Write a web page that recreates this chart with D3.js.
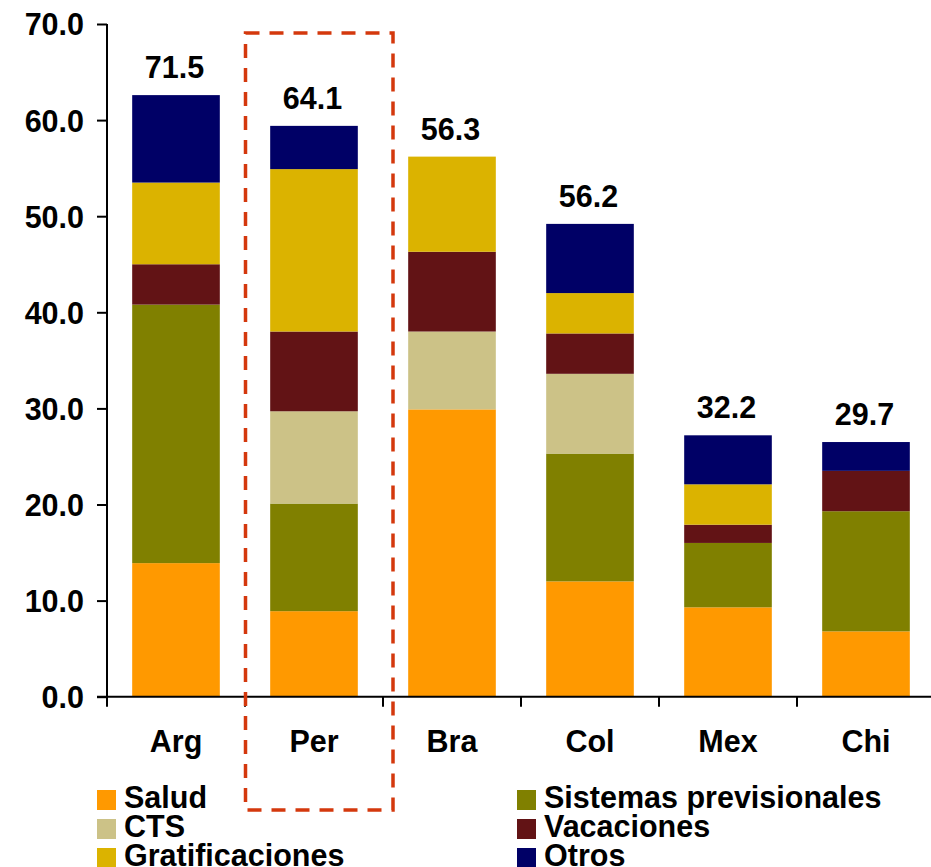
<!DOCTYPE html>
<html>
<head>
<meta charset="utf-8">
<script src="https://cdn.jsdelivr.net/npm/d3@7"></script>
<style>
  html, body { margin: 0; padding: 0; background: #fff; }
  svg { display: block; }
  text { font-family: "Liberation Sans", Arial, sans-serif; font-weight: bold; fill: #000; }
</style>
</head>
<body>
<svg id="chart" width="931" height="867"></svg>
<script>
// ---- data ----
const categories = ["Arg", "Per", "Bra", "Col", "Mex", "Chi"];
const seriesNames = ["Salud", "Sistemas previsionales", "CTS", "Vacaciones", "Gratificaciones", "Otros"];
const salud           = [13.9,  8.9, 29.9, 12.0, 9.3,  6.8];
const sistemas        = [26.9, 11.2,  0.0, 13.3, 6.7, 12.5];
const cts             = [ 0.0,  9.6,  8.1,  8.3, 0.0,  0.0];
const vacaciones      = [ 4.2,  8.3,  8.3,  4.2, 1.9,  4.2];
const gratificaciones = [ 8.5, 16.9,  9.9,  4.2, 4.2,  0.0];
const otros           = [ 9.1,  4.5,  0.0,  7.2, 5.1,  3.0];
const totalLabels     = ["71.5", "64.1", "56.3", "56.2", "32.2", "29.7"];
const yTicks          = [0, 10, 20, 30, 40, 50, 60, 70];
const highlighted     = "Per";

const colors = ["#FF9900", "#808000", "#CCC287", "#621315", "#DBB300", "#000066"];
const seriesValues = [salud, sistemas, cts, vacaciones, gratificaciones, otros];
const FS = 30.5;

// table for d3.stack
const table = categories.map((c, i) => {
  const row = { cat: c };
  seriesNames.forEach((s, j) => row[s] = seriesValues[j][i]);
  return row;
});
const stacked = d3.stack().keys(seriesNames)(table);

const svg = d3.select("#chart");
const x = d3.scaleBand().domain(categories).range([107, 935]).padding(0);
const y = d3.scaleLinear().domain([0, 70]).range([696.7, 24]);
const barW = x.bandwidth() * 0.635;

// bars
svg.append("g").selectAll("g")
  .data(stacked).join("g")
  .attr("fill", (d, i) => colors[i])
  .selectAll("rect")
  .data(d => d).join("rect")
  .attr("x", d => x(d.data.cat) + (x.bandwidth() - barW) / 2)
  .attr("width", barW)
  .attr("y", d => y(d[1]))
  .attr("height", d => Math.max(0, y(d[0]) - y(d[1])));

// total labels
const topOf = categories.map((c, i) => d3.max(stacked, s => s[i][1]));
svg.append("g").selectAll("text")
  .data(categories).join("text")
  .attr("x", d => x(d) + x.bandwidth() / 2 - 1.5)
  .attr("y", (d, i) => y(topOf[i]) - 17)
  .attr("text-anchor", "middle")
  .attr("font-size", FS)
  .text((d, i) => totalLabels[i]);

// y axis
const yAxis = svg.append("g").attr("transform", "translate(107,0)")
  .call(d3.axisLeft(y).tickValues(yTicks).tickFormat(d3.format(".1f")).tickSize(10).tickPadding(13));
yAxis.select(".domain").attr("stroke", "#000").attr("stroke-width", 2).attr("d", `M0,${y(70)}V${y(0)}`);
yAxis.selectAll(".tick line").attr("stroke", "#000").attr("stroke-width", 2);
yAxis.selectAll(".tick text").attr("font-size", FS).attr("font-family", "Liberation Sans, Arial, sans-serif").attr("font-weight", "bold").attr("dy", "0.36em");

// x axis
const xAxis = svg.append("g").attr("transform", `translate(0,${y(0)})`)
  .call(d3.axisBottom(x).tickSize(0).tickPadding(34));
xAxis.select(".domain").attr("stroke", "#000").attr("stroke-width", 2).attr("d", "M97,0H931");
xAxis.selectAll(".tick text").attr("font-size", FS).attr("font-family", "Liberation Sans, Arial, sans-serif").attr("font-weight", "bold");
// category boundary ticks
svg.append("g").selectAll("line")
  .data(categories).join("line")
  .attr("x1", d => x(d)).attr("x2", d => x(d))
  .attr("y1", y(0)).attr("y2", y(0) + 10)
  .attr("stroke", "#000").attr("stroke-width", 2);

// highlight box
svg.append("rect")
  .attr("x", x(highlighted) + 0.5)
  .attr("y", 33)
  .attr("width", 147.5)
  .attr("height", 777)
  .attr("fill", "none")
  .attr("stroke", "#D4380D")
  .attr("stroke-width", 3.5)
  .attr("stroke-dasharray", "14,10");

// legend (two columns, filled column-wise)
const legendOrder = [0, 2, 4, 1, 3, 5];
const legend = svg.append("g");
legendOrder.forEach((si, k) => {
  const col = Math.floor(k / 3), row = k % 3;
  const lx = col === 0 ? 97 : 517;
  const ly = 790 + row * 29;
  legend.append("rect").attr("x", lx).attr("y", ly).attr("width", 19).attr("height", 20).attr("fill", colors[si]);
  legend.append("text").attr("x", lx + 27).attr("y", ly + 18).attr("font-size", FS).text(seriesNames[si]);
});
</script>
</body>
</html>
